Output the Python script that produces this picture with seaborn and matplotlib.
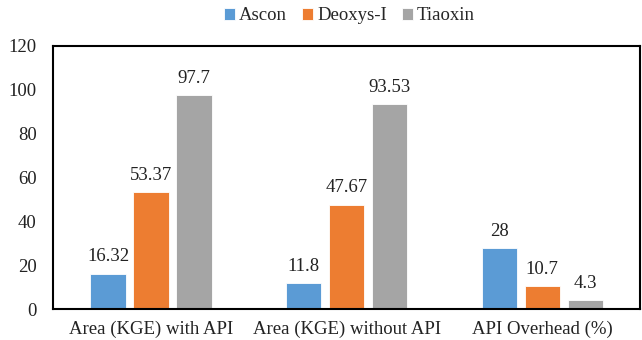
import matplotlib
matplotlib.use("Agg")
import matplotlib.pyplot as plt
import seaborn as sns
import pandas as pd

categories = ["Area (KGE) with API", "Area (KGE) without API", "API Overhead (%)"]
ascon = [16.32, 11.8, 28]
deoxys = [53.37, 47.67, 10.7]
tiaoxin = [97.7, 93.53, 4.3]
series_names = ["Ascon", "Deoxys-I", "Tiaoxin"]
palette = ["#5B9BD5", "#ED7D31", "#A5A5A5"]
yticks = [0, 20, 40, 60, 80, 100, 120]

df = pd.DataFrame({
    "category": categories * 3,
    "value": ascon + deoxys + tiaoxin,
    "cipher": [s for s in series_names for _ in categories],
})

sns.set_theme(style="white")
plt.rcParams["font.family"] = ["Liberation Serif", "DejaVu Serif"]

fig, ax = plt.subplots(figsize=(6.42, 3.4), dpi=100)
fig.subplots_adjust(left=0.083, right=0.997, top=0.865, bottom=0.09)

sns.barplot(data=df, x="category", y="value", hue="cipher", palette=palette,
            width=0.66, gap=0.18, ax=ax, edgecolor="white", linewidth=0.6,
            saturation=1)

for cont in ax.containers:
    labels = [("%g" % b.get_height()) for b in cont]
    ax.bar_label(cont, labels=labels, padding=6, fontsize=13.5, color="#222222")

ax.set_ylim(0, 120)
ax.set_yticks(yticks)
ax.set_xlim(-0.5, 2.5)
ax.set_xlabel("")
ax.set_ylabel("")
ax.tick_params(axis="both", labelsize=13.5, length=0, colors="#222222", pad=8)
ax.tick_params(axis="y", pad=12)
for s in ax.spines.values():
    s.set_visible(True)
    s.set_color("black")
    s.set_linewidth(1.5)

handles, labels = ax.get_legend_handles_labels()
ax.legend(handles, labels, loc="upper center", bbox_to_anchor=(0.505, 1.175),
          ncol=3, frameon=False, fontsize=13.5, handlelength=0.6, handleheight=0.6,
          handletextpad=0.2, columnspacing=0.8, borderaxespad=0)

fig.savefig("out.png", dpi=100)
